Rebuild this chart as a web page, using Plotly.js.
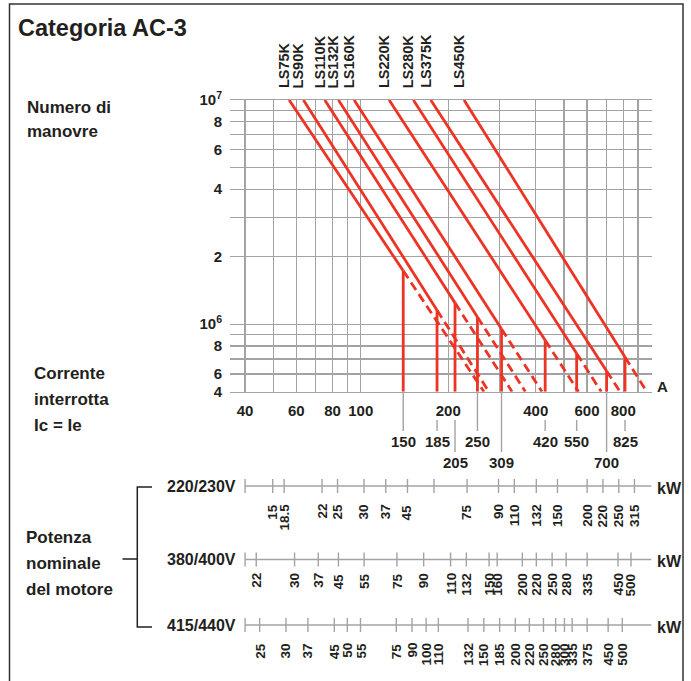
<!DOCTYPE html>
<html><head><meta charset="utf-8">
<script src="https://cdn.plot.ly/plotly-3.0.1.min.js"></script>
<style>body{margin:0;background:#fff}#chart{width:691px;height:681px}</style>
</head><body><div id="chart"></div>
<script>
// ---------------- DATA ----------------
const contactors   = ['LS75K','LS90K','LS110K','LS132K','LS160K','LS220K','LS280K','LS375K','LS450K'];
const currentAtMax = [56.7, 63.5, 75.2, 83.8, 94.9, 125.2, 151.7, 174.1, 226.6];      // A at 10^7 operations
const ratedCurrent = [140, 183, 211, 252, 305, 431, 553, 701, 811];                  // A (vertical lines)
const ratedLabel   = ['150','185','205','250','309','420','550','700','825'];
const opsAtRated   = [1.73e6, 1.155e6, 1.245e6, 1.078e6, 9.53e5, 8.48e5, 7.40e5, 6.19e5, 7.14e5];
const maxOps = 1e7, minOps = 5e5;

const xGrid   = [40,50,60,70,80,90,100,200,300,400,500,600,700,800,900,1000];
const xTicks  = [40,60,80,100,200,400,600,800];
const xLabels = ['40','60','80','100','200','400','600','800'];
const yGrid   = [5e5,6e5,7e5,8e5,9e5,1e6,2e6,3e6,4e6,5e6,6e6,7e6,8e6,9e6,1e7];
const yTicks  = [5e5,6e5,8e5,1e6,2e6,4e6,6e6,8e6,1e7];
const yLabels = ['4','6','8','10<sup>6</sup>','2','4','6','8','10<sup>7</sup>'];

const kw220  = ['','15','18.5','22','25','30','37','45','','75','90','110','132','150','200','220','250','315'];
const amp220 = [40, 49.8, 54.5, 73.6, 83.2, 102.6, 121.9, 144.8, 178.6, 232.1, 297.8, 337.5, 401.7, 475, 601, 681, 772, 874];
const kw380  = ['','22','30','37','45','55','75','90','110','132','150','160','200','220','250','280','335','450','500'];
const amp380 = [40, 43.7, 59.2, 71.4, 83.8, 102.7, 133.2, 164.6, 203.7, 230.8, 276.3, 294.6, 359.6, 401.8, 455.3, 508.8, 600.9, 767.5, 850.4];
const kw415  = ['','25','30','37','45','50','55','75','90','100','110','132','150','185','200','220','250','280','300','335','375','450','500'];
const amp415 = [40, 44.9, 55.3, 65.8, 81.1, 89.9, 99.8, 132.5, 150.1, 167.8, 184.9, 233.9, 265.1, 300.4, 340.2, 380.2, 425.1, 468.2, 502.1, 533.6, 600.9, 709.6, 793.6];
const voltages = ['220/230V','380/400V','415/440V'];

// ---------------- STYLE / LAYOUT ----------------
const W = 691, H = 681;
const px = x => x / W;
const py = y => 1 - y / H;
const FONT = "'Liberation Sans', Arial, sans-serif";
const INK = '#231f20', GRID = '#a3a3a3', RED = '#ec3324';
const PL = 230, PR = 651.7, PT = 100, PB = 391.7;
const xr = [Math.log10(35.5), Math.log10(1002)];
const yr = [Math.log10(minOps), Math.log10(maxOps)];
const pxPerDec = (PR - PL) / (xr[1] - xr[0]);
const lg = Math.log10;

// ---------------- TRACES ----------------
const sx=[], sy=[], dx=[], dy=[], vx=[], vy=[];
contactors.forEach((c,i)=>{
  const slope = (lg(opsAtRated[i]) - lg(maxOps)) / (lg(ratedCurrent[i]) - lg(currentAtMax[i]));
  const iEnd = Math.pow(10, lg(ratedCurrent[i]) + (lg(minOps) - lg(opsAtRated[i])) / slope);
  sx.push(currentAtMax[i], ratedCurrent[i], null); sy.push(maxOps, opsAtRated[i], null);
  dx.push(ratedCurrent[i], iEnd, null);            dy.push(opsAtRated[i], minOps, null);
  vx.push(ratedCurrent[i], ratedCurrent[i], null); vy.push(minOps, opsAtRated[i], null);
});
const traces = [
  {x:sx, y:sy, mode:'lines', line:{color:RED, width:2.8}, hoverinfo:'skip', showlegend:false},
  {x:dx, y:dy, mode:'lines', line:{color:RED, width:2.8, dash:'9px,5px'}, hoverinfo:'skip', showlegend:false},
  {x:vx, y:vy, mode:'lines', line:{color:RED, width:2.8}, hoverinfo:'skip', showlegend:false}
];

// ---------------- SHAPES & ANNOTATIONS ----------------
const shapes = [], ann = [];
const txt = (text, x, y, size, o={}) => Object.assign({text, x, y, xref:'paper', yref:'paper', showarrow:false,
  font:{family:FONT, size, color:INK, weight:700}, xanchor:'left', yanchor:'middle', align:'left'}, o);

// outer frame
shapes.push({type:'rect', xref:'paper', yref:'paper', x0:px(9.5), x1:px(683), y0:py(4), y1:py(700),
  line:{color:'#333', width:1.5}});

// side texts
[['Numero di',107],['manovre',132]].forEach(t=>ann.push(txt(t[0], px(25), py(t[1]), 17)));
[['Corrente',373.5],['interrotta',399.5],['Ic = Ie',425.5]].forEach(t=>ann.push(txt(t[0], px(32), py(t[1]), 17)));
[['Potenza',537],['nominale',563],['del motore',589]].forEach(t=>ann.push(txt(t[0], px(24), py(t[1]), 17)));
ann.push(txt('A', px(655), py(386), 15));

// contactor names on top
contactors.forEach((c,i)=>{
  ann.push({text:c, x:lg(currentAtMax[i]), xref:'x', y:py(90), yref:'paper', xshift:-5, textangle:-90,
    xanchor:'center', yanchor:'bottom', showarrow:false, font:{family:FONT, size:14.5, color:INK, weight:700}});
});

// rated current labels under x axis
const labelLevel = [0,0,1,0,1,0,0,1,0];
ratedCurrent.forEach((r,i)=>{
  const blocked = xTicks.some(g => Math.abs(lg(g)-lg(r))*pxPerDec < 15);
  const yTop = blocked ? 420 : PB + 1;
  const yBot = labelLevel[i] ? 452 : 431;
  shapes.push({type:'line', xref:'x', yref:'paper', x0:r, x1:r, y0:py(yTop), y1:py(yBot), line:{color:GRID, width:1.4}});
  ann.push({text:ratedLabel[i], x:lg(r), xref:'x', y:py(labelLevel[i] ? 462 : 441.5), yref:'paper',
    xanchor:'center', yanchor:'middle', showarrow:false, font:{family:FONT, size:15, color:INK, weight:700}});
});

// motor power scales
const rows = [
  {kw:kw220, amp:amp220, y:486, labTop:502},
  {kw:kw380, amp:amp380, y:559.5, labTop:571},
  {kw:kw415, amp:amp415, y:625, labTop:641}
];
rows.forEach((row,k)=>{
  shapes.push({type:'line', xref:'x', yref:'paper', x0:40, x1:1000, y0:py(row.y), y1:py(row.y), line:{color:GRID, width:1.4}});
  row.amp.forEach((a,j)=>{
    shapes.push({type:'line', xref:'x', yref:'paper', x0:a, x1:a, y0:py(row.y-7), y1:py(row.y+7), line:{color:GRID, width:1.4}});
    if(row.kw[j]) ann.push({text:row.kw[j], x:lg(a), xref:'x', y:py(row.labTop), yref:'paper', textangle:-90,
      xanchor:'center', yanchor:'top', showarrow:false, font:{family:FONT, size:13.5, color:INK, weight:700}});
  });
  ann.push(txt(voltages[k], px(165), py(row.y), 16));
  ann.push(txt('kW', px(655), py(row.y+2), 16));
});

// bracket
shapes.push({type:'path', xref:'paper', yref:'paper',
  path:`M ${px(152)} ${py(487)} L ${px(137.3)} ${py(487)} L ${px(137.3)} ${py(627)} L ${px(152)} ${py(627)} M ${px(122.5)} ${py(559)} L ${px(137.3)} ${py(559)}`,
  line:{color:INK, width:1.5}});

const layout = {
  width: W, height: H,
  margin: {l:0, r:0, t:0, b:0},
  paper_bgcolor: '#fff', plot_bgcolor: '#fff',
  title: {text:'Categoria AC-3', x:px(18), xanchor:'left', xref:'paper', y:py(28), yref:'paper', yanchor:'middle',
    font:{family:FONT, size:23.5, color:INK, weight:700}},
  xaxis: {type:'log', range:xr, domain:[px(PL), px(PR)], tickmode:'array', tickvals:xTicks, ticktext:xLabels,
    showgrid:true, gridcolor:GRID, gridwidth:1.4, ticks:'', zeroline:false, showline:true, mirror:true,
    minor:{tickmode:'array', tickvals:xGrid, showgrid:true, gridcolor:GRID, gridwidth:1.4, ticks:''},
    linecolor:GRID, linewidth:1.4, ticklabelstandoff:5, tickfont:{family:FONT, size:15, color:INK, weight:700}, fixedrange:true},
  yaxis: {type:'log', range:yr, domain:[py(PB), py(PT)], tickmode:'array', tickvals:yTicks, ticktext:yLabels,
    showgrid:true, gridcolor:GRID, gridwidth:1.4, ticks:'', zeroline:false, showline:false,
    minor:{tickmode:'array', tickvals:yGrid, showgrid:true, gridcolor:GRID, gridwidth:1.4, ticks:''},
    ticklabelstandoff:7, tickfont:{family:FONT, size:15, color:INK, weight:700}, fixedrange:true},
  shapes, annotations: ann
};
Plotly.newPlot('chart', traces, layout, {staticPlot:true});
</script></body></html>
